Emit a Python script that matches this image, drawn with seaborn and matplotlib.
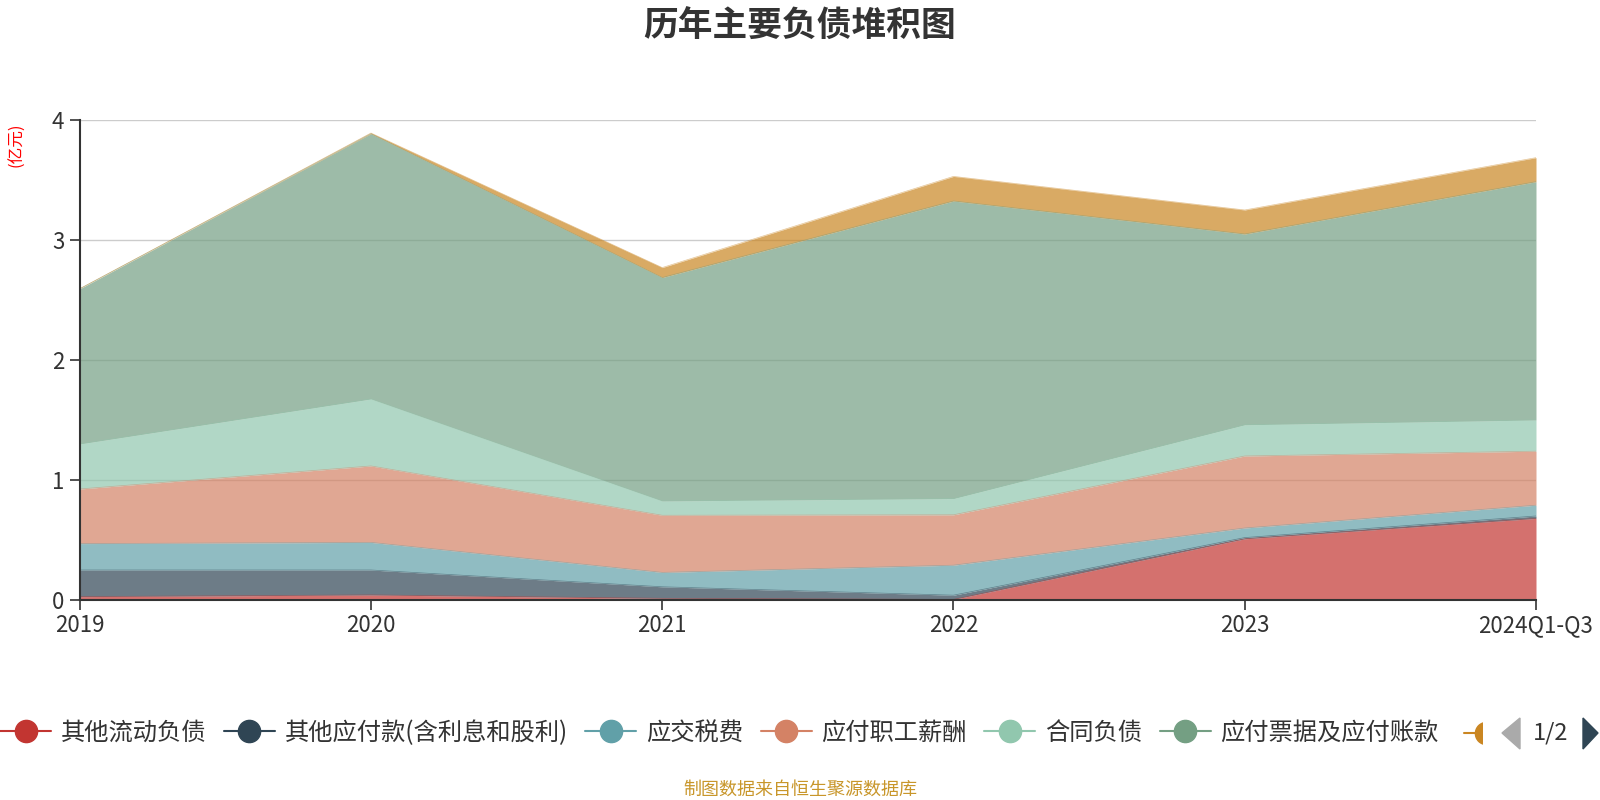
import numpy as np
import pandas as pd
import seaborn as sns
import matplotlib.pyplot as plt
from matplotlib.lines import Line2D
from matplotlib.patches import Polygon, Rectangle

# values (亿元)
years = ['2019', '2020', '2021', '2022', '2023', '2024Q1-Q3']
other_current = [0.028, 0.042, 0.014, 0.005, 0.51, 0.68]    # 其他流动负债
other_payables = [0.222, 0.208, 0.096, 0.035, 0.01, 0.02]   # 其他应付款(含利息和股利)
taxes = [0.22, 0.23, 0.12, 0.25, 0.08, 0.09]                # 应交税费
payroll = [0.455, 0.637, 0.476, 0.42, 0.60, 0.45]           # 应付职工薪酬
contract = [0.375, 0.558, 0.119, 0.135, 0.26, 0.26]         # 合同负债
notes_ap = [1.293, 2.211, 1.862, 2.48, 1.59, 1.986]         # 应付票据及应付账款
seventh = [0.0, 0.005, 0.083, 0.205, 0.20, 0.20]            # 7th series (legend page 2)

names = ['其他流动负债', '其他应付款(含利息和股利)', '应交税费', '应付职工薪酬',
         '合同负债', '应付票据及应付账款', '第七项']
colors = ['#c23531', '#2f4554', '#61a0a8', '#d48265', '#91c7ae', '#749f83', '#ca8622']

df = pd.DataFrame(dict(zip(names, [other_current, other_payables, taxes, payroll,
                                   contract, notes_ap, seventh])))
df['pos'] = range(len(years))

sns.set_theme(style='white')
plt.rcParams['font.family'] = ['Noto Sans CJK SC', 'DejaVu Sans']

fig = plt.figure(figsize=(16, 8), dpi=100)
ax = fig.add_axes([0.0498, 0.25, 0.9102, 0.60])

# grid under the areas
ax.set_axisbelow(True)
ax.yaxis.grid(True, color='#cccccc', linewidth=1)
ax.xaxis.grid(False)

# stacked areas
ax.stackplot(df['pos'], [df[n] for n in names], colors=colors, alpha=0.7, linewidth=0)

# thin top edges through seaborn
tops = df[names].cumsum(axis=1)
tops['pos'] = df['pos']
long = tops.melt(id_vars='pos', var_name='series', value_name='top')
sns.lineplot(data=long, x='pos', y='top', hue='series', palette=dict(zip(names, colors)),
             linewidth=0.5, alpha=0.5, legend=False, ax=ax)

ax.set_xlim(0, len(years) - 1)
ax.set_ylim(0, 4)
ax.set_yticks([0, 1, 2, 3, 4])
ax.set_xticks(df['pos'])
ax.set_xticklabels(years)
ax.set_xlabel('')
ax.set_ylabel('')
ax.tick_params(axis='both', which='both', direction='out', length=7, width=1.2,
               color='#333333', labelcolor='#333333', labelsize=16, left=True, bottom=True)
ax.tick_params(axis='y', pad=4)
ax.tick_params(axis='x', pad=3)
for s in ['top', 'right']:
    ax.spines[s].set_visible(False)
for s in ['left', 'bottom']:
    ax.spines[s].set_color('#333333')
    ax.spines[s].set_linewidth(1.5)

# title, unit, footer
fig.text(0.5, 1 - 26 / 800, '历年主要负债堆积图', ha='center', va='center',
         fontsize=25, fontweight='bold', color='#333333')
fig.text(17 / 1600, 1 - 145 / 800, '(亿元)', ha='center', va='center', rotation=90,
         fontsize=12, color='#ff0000')
fig.text(0.5, 1 - 790 / 800, '制图数据来自恒生聚源数据库', ha='center', va='center',
         fontsize=13, color='#c8962a')

# legend (page 1 of 2)
handles = [Line2D([0], [0], color=c, lw=1.5, marker='o', markersize=16,
                  markerfacecolor=c, markeredgecolor=c) for c in colors[:6]]
leg = fig.legend(handles, names[:6], loc='center left', bbox_to_anchor=(0.0, 1 - 733 / 800),
                 ncol=6, frameon=False, fontsize=17.5, handlelength=2.1, handletextpad=0.4,
                 columnspacing=0.72, borderaxespad=0, borderpad=0, labelcolor='#333333')

# truncated 7th legend item
ly = 1 - 733 / 800
clip = Rectangle((1462 / 1600, 0.0), 20 / 1600, 0.2, transform=fig.transFigure,
                 facecolor='none', edgecolor='none')
fig.add_artist(clip)
part = Line2D([1464 / 1600, 1515 / 1600], [ly, ly], transform=fig.transFigure,
              color=colors[6], lw=1.5)
dot = Line2D([1486 / 1600], [ly], transform=fig.transFigure, color=colors[6],
             marker='o', markersize=16, lw=0)
for a in (part, dot):
    fig.add_artist(a)
    a.set_clip_path(clip)

# pager
fig.add_artist(Polygon([[1502 / 1600, ly], [1520 / 1600, 1 - 718 / 800], [1520 / 1600, 1 - 749 / 800]],
                       closed=True, transform=fig.transFigure, color='#aaaaaa'))
fig.add_artist(Polygon([[1583 / 1600, 1 - 718 / 800], [1583 / 1600, 1 - 749 / 800], [1598 / 1600, ly]],
                       closed=True, transform=fig.transFigure, color='#2f4554'))
fig.text(1551 / 1600, ly, '1/2', ha='center', va='center', fontsize=17, color='#333333')

fig.savefig('out.png', dpi=100)
